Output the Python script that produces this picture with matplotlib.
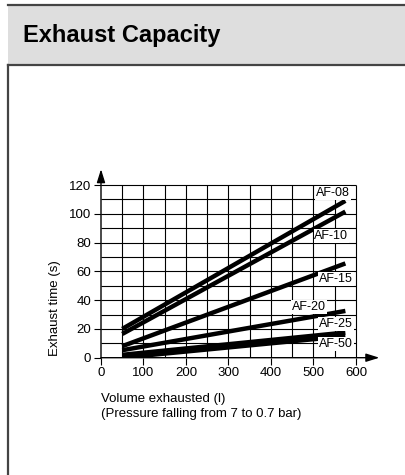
import numpy as np
import matplotlib.pyplot as plt
from matplotlib.patches import Rectangle
from matplotlib.lines import Line2D

plt.rcParams['font.family'] = ['Liberation Sans', 'DejaVu Sans']

# data
models = ['AF-08', 'AF-10', 'AF-15', 'AF-20', 'AF-25', 'AF-50']
vol = [50, 575]
t_start = [20, 16.5, 8, 5.2, 2, 0]
t_end = [109, 101.5, 65.5, 32.5, 17.5, 15]
xticks = [0, 100, 200, 300, 400, 500, 600]
yticks = [0, 20, 40, 60, 80, 100, 120]

# where the labels sit (data coords)
lab_x = [546, 542, 553, 489, 553, 553]
lab_y = [114.4, 84.7, 54.7, 35.2, 23.4, 9.5]

W, H = 406, 475
fig = plt.figure(figsize=(W / 100, H / 100), dpi=100)

def fx(px):
    return px / W

def fy(py):
    return 1 - py / H

# header band and frame
fig.patches.append(Rectangle((fx(8), fy(65)), 1 - fx(8), fy(4) - fy(65),
                             transform=fig.transFigure, facecolor='#dedede',
                             edgecolor='none', zorder=0))
fig.lines.append(Line2D([fx(8), 1], [fy(4.5), fy(4.5)], transform=fig.transFigure,
                        color='#444444', lw=1.6))
fig.lines.append(Line2D([fx(8), 1], [fy(65), fy(65)], transform=fig.transFigure,
                        color='#444444', lw=1.6))
fig.lines.append(Line2D([fx(8.5), fx(8.5)], [fy(65), 0], transform=fig.transFigure,
                        color='#444444', lw=1.6))
fig.text(fx(23), fy(35.5), 'Exhaust Capacity', fontsize=17, fontweight='bold',
         ha='left', va='center')

# plot area: x 0 at px 101, 600 at px 356; y 0 at px 357.7, 120 at px 185
xmax, ymax = 655, 131
px_per_x = 255 / 600
px_per_y = 172.7 / 120
ax = fig.add_axes([fx(101), fy(357.7), xmax * px_per_x / W, ymax * px_per_y / H])
ax.set_xlim(0, xmax)
ax.set_ylim(0, ymax)
for s in ax.spines.values():
    s.set_visible(False)
ax.patch.set_alpha(0)

# grid
ax.vlines(np.arange(50, 601, 50), 0, 120, color='black', lw=0.8, zorder=1)
ax.hlines(np.arange(10, 121, 10), 0, 600, color='black', lw=0.8, zorder=1)

# axes with arrows
ax.annotate('', xy=(0, ymax), xytext=(0, 0), annotation_clip=False,
            arrowprops=dict(arrowstyle='-|>,head_length=0.8,head_width=0.25',
                            color='black', lw=1.0, shrinkA=0, shrinkB=0))
ax.annotate('', xy=(xmax, 0), xytext=(0, 0), annotation_clip=False,
            arrowprops=dict(arrowstyle='-|>,head_length=0.8,head_width=0.25',
                            color='black', lw=1.0, shrinkA=0, shrinkB=0))

ax.set_xticks(xticks)
ax.set_yticks(yticks)
ax.tick_params(direction='out', length=5, width=0.8, labelsize=9.5, pad=2)

for i, m in enumerate(models):
    ax.plot(vol, [t_start[i], t_end[i]], color='black', lw=3.2,
            solid_capstyle='butt', zorder=3)
    ax.text(lab_x[i], lab_y[i], m, fontsize=9, ha='center', va='center', zorder=4,
            bbox=dict(facecolor='white', edgecolor='none', pad=0.5))

fig.text(fx(55), fy(308.5), 'Exhaust time (s)', rotation=90, fontsize=9.5,
         ha='center', va='center')
fig.text(fx(101.5), fy(399), 'Volume exhausted (l)', fontsize=9.5,
         ha='left', va='center')
fig.text(fx(101.5), fy(413.5), '(Pressure falling from 7 to 0.7 bar)', fontsize=9.5,
         ha='left', va='center')

fig.savefig('out.png', dpi=100)
